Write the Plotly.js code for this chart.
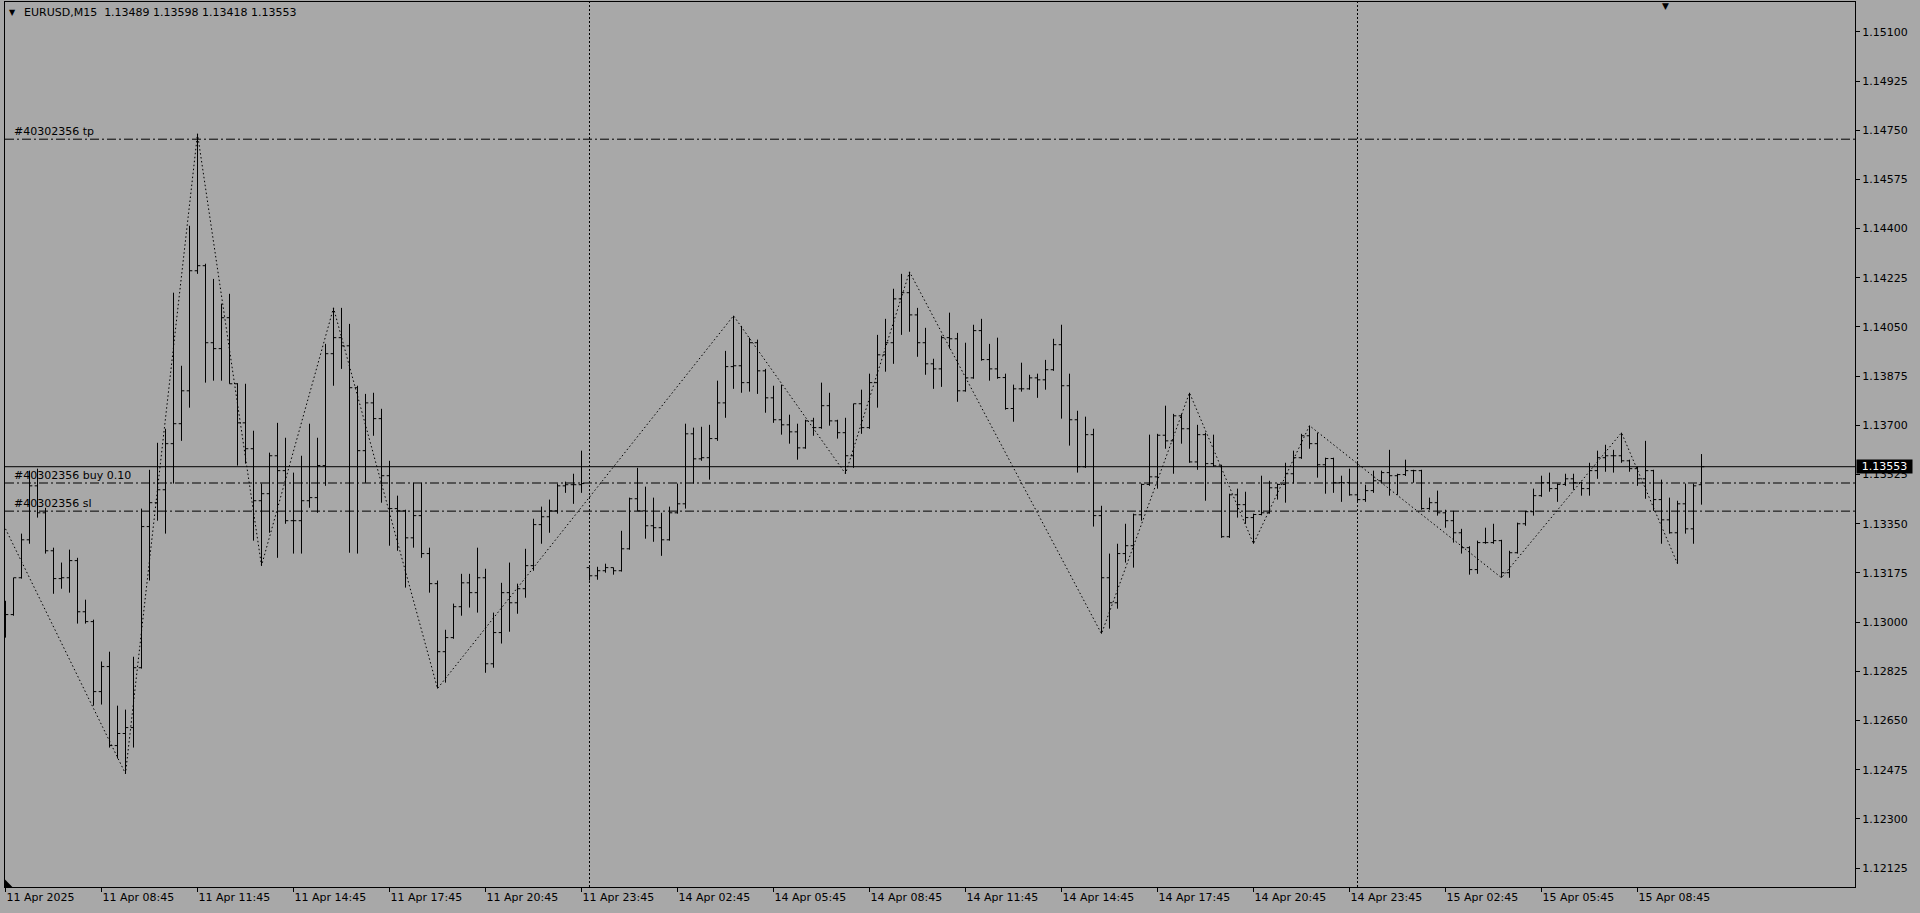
<!DOCTYPE html>
<html>
<head>
<meta charset="utf-8">
<script src="https://cdn.plot.ly/plotly-3.0.1.min.js"></script>
<style>
html,body{margin:0;padding:0;background:#a8a8a8;overflow:hidden;}
#chart{width:1920px;height:913px;}
</style>
</head>
<body>
<div id="chart"></div>
<script>
// ---- EURUSD M15 bars (11 Apr 2025 05:45 .. 15 Apr 2025 10:45) ----
const open = [1.12988,1.13027,1.13158,1.13293,1.13485,1.13389,1.13254,1.13155,1.13158,1.13219,
1.13037,1.13002,1.12753,1.12842,1.12561,1.12604,1.12625,1.12838,1.13340,1.13425,
1.13471,1.13635,1.13706,1.13823,1.14250,1.14268,1.13994,1.13973,1.14083,1.13848,
1.13709,1.13617,1.13432,1.13457,1.13592,1.13539,1.13361,1.13361,1.13432,1.13443,
1.13557,1.13955,1.14012,1.13983,1.13834,1.13610,1.13780,1.13724,1.13521,1.13404,
1.13396,1.13300,1.13379,1.13244,1.13137,1.12895,1.12945,1.13055,1.13140,1.13105,
1.13158,1.12852,1.12963,1.13105,1.13069,1.13119,1.13201,1.13347,1.13375,1.13396,
1.13485,1.13489,1.13489,1.13194,1.13165,1.13183,1.13194,1.13183,1.13261,1.13439,
1.13396,1.13343,1.13336,1.13293,1.13389,1.13421,1.13670,1.13581,1.13585,1.13653,
1.13780,1.13909,1.13912,1.13852,1.13994,1.13894,1.13798,1.13720,1.13702,1.13677,
1.13620,1.13716,1.13692,1.13770,1.13716,1.13674,1.13592,1.13777,1.13692,1.13852,
1.13951,1.13994,1.14150,1.14172,1.14093,1.13994,1.13919,1.13901,1.14012,1.14008,
1.13823,1.13869,1.14037,1.13934,1.13901,1.13870,1.13760,1.13830,1.13830,1.13869,
1.13862,1.13898,1.13987,1.13841,1.13720,1.13553,1.13667,1.13379,1.13158,1.13069,
1.13244,1.13272,1.13382,1.13490,1.13517,1.13665,1.13645,1.13734,1.13688,1.13570,
1.13667,1.13564,1.13556,1.13304,1.13453,1.13418,1.13372,1.13383,1.13389,1.13478,
1.13490,1.13528,1.13585,1.13663,1.13635,1.13560,1.13582,1.13496,1.13496,1.13453,
1.13436,1.13468,1.13503,1.13532,1.13521,1.13525,1.13539,1.13539,1.13404,1.13425,
1.13389,1.13361,1.13318,1.13265,1.13187,1.13283,1.13283,1.13290,1.13176,1.13247,
1.13350,1.13393,1.13450,1.13496,1.13475,1.13490,1.13510,1.13496,1.13475,1.13539,
1.13585,1.13592,1.13592,1.13574,1.13546,1.13510,1.13539,1.13436,1.13364,1.13318,
1.13421,1.13332,1.13489];
const high = [1.13076,1.13158,1.13315,1.13539,1.13546,1.13407,1.13265,1.13212,1.13258,1.13229,
1.13080,1.13009,1.12860,1.12895,1.12703,1.12689,1.12877,1.13404,1.13542,1.13638,
1.13688,1.14172,1.13912,1.14410,1.14737,1.14275,1.14221,1.14133,1.14168,1.13850,
1.13848,1.13681,1.13493,1.13603,1.13709,1.13656,1.13532,1.13592,1.13706,1.13656,
1.13990,1.14118,1.14118,1.14061,1.13841,1.13812,1.13816,1.13759,1.13574,1.13450,
1.13400,1.13496,1.13496,1.13265,1.13148,1.12973,1.13066,1.13172,1.13172,1.13265,
1.13190,1.13034,1.13140,1.13212,1.13137,1.13261,1.13368,1.13411,1.13436,1.13493,
1.13500,1.13528,1.13610,1.13194,1.13197,1.13208,1.13194,1.13325,1.13443,1.13549,
1.13482,1.13443,1.13389,1.13411,1.13493,1.13706,1.13692,1.13695,1.13702,1.13859,
1.13965,1.14090,1.14054,1.14012,1.14005,1.13901,1.13841,1.13845,1.13738,1.13706,
1.13720,1.13727,1.13852,1.13816,1.13720,1.13727,1.13777,1.13827,1.13884,1.14022,
1.14079,1.14186,1.14239,1.14246,1.14118,1.14047,1.13937,1.14019,1.14101,1.14029,
1.13994,1.14058,1.14079,1.13990,1.14012,1.13884,1.13845,1.13923,1.13880,1.13884,
1.13933,1.14008,1.14058,1.13884,1.13752,1.13731,1.13688,1.13414,1.13244,1.13279,
1.13350,1.13386,1.13493,1.13667,1.13670,1.13770,1.13741,1.13741,1.13816,1.13702,
1.13674,1.13667,1.13560,1.13457,1.13475,1.13464,1.13386,1.13521,1.13503,1.13493,
1.13567,1.13610,1.13670,1.13699,1.13674,1.13585,1.13585,1.13521,1.13546,1.13567,
1.13489,1.13539,1.13539,1.13613,1.13528,1.13578,1.13542,1.13542,1.13443,1.13468,
1.13400,1.13396,1.13332,1.13270,1.13290,1.13336,1.13350,1.13293,1.13254,1.13354,
1.13396,1.13475,1.13521,1.13532,1.13493,1.13528,1.13528,1.13500,1.13567,1.13610,
1.13631,1.13613,1.13674,1.13578,1.13553,1.13645,1.13542,1.13507,1.13443,1.13432,
1.13493,1.13493,1.13598];
const low = [1.12945,1.13023,1.13155,1.13279,1.13372,1.13244,1.13101,1.13119,1.13105,1.12995,
1.12995,1.12703,1.12707,1.12554,1.12515,1.12461,1.12554,1.12835,1.13148,1.13361,
1.13315,1.13493,1.13645,1.13763,1.14239,1.13852,1.13859,1.13859,1.13848,1.13557,
1.13564,1.13290,1.13201,1.13318,1.13229,1.13350,1.13244,1.13244,1.13407,1.13389,
1.13485,1.13841,1.13901,1.13247,1.13244,1.13496,1.13663,1.13425,1.13272,1.13254,
1.13123,1.13265,1.13229,1.13105,1.12764,1.12785,1.12941,1.13023,1.13052,1.13034,
1.12820,1.12838,1.12924,1.12966,1.13030,1.13087,1.13183,1.13279,1.13318,1.13386,
1.13460,1.13421,1.13460,1.13148,1.13151,1.13176,1.13169,1.13180,1.13258,1.13396,
1.13297,1.13286,1.13236,1.13290,1.13386,1.13404,1.13493,1.13574,1.13507,1.13645,
1.13727,1.13830,1.13816,1.13820,1.13812,1.13745,1.13709,1.13667,1.13635,1.13578,
1.13617,1.13663,1.13688,1.13699,1.13653,1.13528,1.13549,1.13670,1.13688,1.13763,
1.13891,1.13919,1.14022,1.14033,1.13944,1.13880,1.13830,1.13837,1.13973,1.13784,
1.13820,1.13866,1.13930,1.13859,1.13866,1.13756,1.13713,1.13820,1.13827,1.13798,
1.13827,1.13894,1.13724,1.13628,1.13532,1.13549,1.13340,1.12959,1.12977,1.13048,
1.13212,1.13194,1.13361,1.13485,1.13475,1.13617,1.13528,1.13635,1.13567,1.13542,
1.13432,1.13553,1.13300,1.13300,1.13372,1.13350,1.13279,1.13380,1.13386,1.13436,
1.13425,1.13493,1.13581,1.13617,1.13514,1.13457,1.13460,1.13428,1.13450,1.13428,
1.13428,1.13460,1.13493,1.13450,1.13453,1.13520,1.13496,1.13400,1.13400,1.13379,
1.13336,1.13283,1.13244,1.13169,1.13172,1.13279,1.13279,1.13158,1.13158,1.13244,
1.13343,1.13379,1.13446,1.13464,1.13428,1.13485,1.13471,1.13450,1.13450,1.13510,
1.13535,1.13532,1.13567,1.13535,1.13485,1.13439,1.13396,1.13279,1.13315,1.13208,
1.13315,1.13279,1.13418];
const close = [1.13027,1.13158,1.13293,1.13485,1.13389,1.13254,1.13155,1.13158,1.13219,1.13037,
1.13002,1.12753,1.12842,1.12561,1.12604,1.12625,1.12838,1.13340,1.13425,1.13471,
1.13635,1.13706,1.13823,1.14250,1.14268,1.13994,1.13973,1.14083,1.13848,1.13709,
1.13617,1.13432,1.13457,1.13592,1.13539,1.13361,1.13361,1.13432,1.13443,1.13557,
1.13955,1.14012,1.13983,1.13834,1.13610,1.13780,1.13724,1.13521,1.13404,1.13396,
1.13300,1.13379,1.13244,1.13137,1.12895,1.12945,1.13055,1.13140,1.13105,1.13158,
1.12852,1.12963,1.13105,1.13069,1.13119,1.13201,1.13347,1.13375,1.13396,1.13485,
1.13489,1.13489,1.13493,1.13165,1.13183,1.13194,1.13183,1.13261,1.13439,1.13396,
1.13343,1.13336,1.13293,1.13389,1.13421,1.13670,1.13581,1.13585,1.13653,1.13780,
1.13909,1.13912,1.13852,1.13994,1.13894,1.13798,1.13720,1.13702,1.13677,1.13620,
1.13716,1.13692,1.13770,1.13716,1.13674,1.13592,1.13777,1.13692,1.13852,1.13951,
1.13994,1.14150,1.14172,1.14093,1.13994,1.13919,1.13901,1.14012,1.14008,1.13823,
1.13869,1.14037,1.13934,1.13901,1.13870,1.13760,1.13830,1.13830,1.13869,1.13862,
1.13898,1.13987,1.13841,1.13720,1.13553,1.13667,1.13379,1.13158,1.13069,1.13244,
1.13272,1.13382,1.13490,1.13517,1.13665,1.13645,1.13734,1.13688,1.13570,1.13667,
1.13564,1.13556,1.13304,1.13453,1.13418,1.13372,1.13383,1.13389,1.13478,1.13490,
1.13528,1.13585,1.13663,1.13635,1.13560,1.13582,1.13496,1.13496,1.13453,1.13436,
1.13468,1.13503,1.13532,1.13521,1.13525,1.13539,1.13539,1.13404,1.13425,1.13389,
1.13361,1.13318,1.13265,1.13187,1.13283,1.13283,1.13290,1.13176,1.13247,1.13350,
1.13393,1.13450,1.13496,1.13475,1.13490,1.13510,1.13496,1.13475,1.13539,1.13585,
1.13592,1.13592,1.13574,1.13546,1.13510,1.13539,1.13436,1.13364,1.13318,1.13421,
1.13332,1.13485,1.13553];

// ZigZag indicator vertices (bar index, price)
const zzIndex = [0, 15, 24, 32, 41, 54, 91, 105, 113, 137, 148, 156, 163, 187, 202, 209];
const zzPrice = [1.13332, 1.12461, 1.14737, 1.13201, 1.14118, 1.12764, 1.14090, 1.13528, 1.14246, 1.12959, 1.13816, 1.13279, 1.13699, 1.13158, 1.13674, 1.13208];

// time axis labels (every 12 bars)
const timeTickIndex = [0,12,24,36,48,60,72,84,96,108,120,132,144,156,168,180,192,204];
const timeTickText = ["11 Apr 2025","11 Apr 08:45","11 Apr 11:45","11 Apr 14:45","11 Apr 17:45","11 Apr 20:45",
  "11 Apr 23:45","14 Apr 02:45","14 Apr 05:45","14 Apr 08:45","14 Apr 11:45","14 Apr 14:45",
  "14 Apr 17:45","14 Apr 20:45","14 Apr 23:45","15 Apr 02:45","15 Apr 05:45","15 Apr 08:45"];
const daySeparators = [73, 169];

// price axis labels
const priceTicks = [1.12125,1.12300,1.12475,1.12650,1.12825,1.13000,1.13175,1.13350,1.13525,
  1.13700,1.13875,1.14050,1.14225,1.14400,1.14575,1.14750,1.14925,1.15100];

// order levels and bid
const orderLabels = ["#40302356 tp", "#40302356 buy 0.10", "#40302356 sl"];
const orderLevels = [1.14718, 1.13495, 1.13395];
const bid = 1.13553;
const symbolTitle = "EURUSD,M15  1.13489 1.13598 1.13418 1.13553";

const FONT = "DejaVu Sans";
const idx = open.map((_, i) => i);

const traces = [
  {
    type: "ohlc", x: idx, open: open, high: high, low: low, close: close,
    increasing: {line: {color: "#000000", width: 1}},
    decreasing: {line: {color: "#000000", width: 1}},
    tickwidth: 0.35, hoverinfo: "skip", showlegend: false
  },
  {
    type: "scatter", mode: "lines", x: zzIndex, y: zzPrice,
    line: {color: "#000000", width: 1, dash: "1.5px,2.5px"},
    hoverinfo: "skip", showlegend: false
  }
];

const shapes = [];
orderLevels.forEach(v => shapes.push({
  type: "line", xref: "paper", x0: 0, x1: 1, yref: "y", y0: v, y1: v,
  line: {color: "#000000", width: 1, dash: "9px,3px,2px,3px"}, layer: "below"
}));
shapes.push({type: "line", xref: "paper", x0: 0, x1: 1, yref: "y", y0: bid, y1: bid,
  line: {color: "#000000", width: 1}, layer: "below"});
daySeparators.forEach(v => shapes.push({
  type: "line", xref: "x", x0: v, x1: v, yref: "paper", y0: 0, y1: 1,
  line: {color: "#000000", width: 1, dash: "2px,2px"}, layer: "below"
}));
// small corner marker (bottom-left)
shapes.push({type: "path", xref: "paper", yref: "paper",
  path: "M 0 0 L 0 0.0085 L 0.0040 0 Z",
  fillcolor: "#000000", line: {width: 0}, layer: "above"});

const annotations = [];
annotations.push({xref: "paper", yref: "paper", x: 0, y: 1, xanchor: "left", yanchor: "top",
  xshift: 17, yshift: -2, text: symbolTitle, showarrow: false,
  font: {family: FONT, size: 11, color: "#000000"}});
annotations.push({xref: "paper", yref: "paper", x: 0, y: 1, xanchor: "left", yanchor: "top",
  xshift: 2, yshift: -4, text: "▼", showarrow: false,
  font: {family: FONT, size: 8, color: "#000000"}});
orderLabels.forEach((t, k) => annotations.push({
  xref: "paper", yref: "y", x: 0, y: orderLevels[k], xanchor: "left", yanchor: "bottom",
  xshift: 7, yshift: -1, text: t, showarrow: false,
  font: {family: FONT, size: 11, color: "#000000"}
}));
annotations.push({xref: "paper", yref: "y", x: 1, y: bid, xanchor: "left", yanchor: "middle",
  xshift: 1, text: bid.toFixed(5), showarrow: false, bgcolor: "#000000",
  width: 55, height: 13, borderpad: 0, align: "center",
  font: {family: FONT, size: 11, color: "#ffffff"}});
annotations.push({xref: "x", yref: "paper", x: 207.5, y: 1, xanchor: "center", yanchor: "top",
  yshift: 3, text: "▼", showarrow: false,
  font: {family: FONT, size: 9, color: "#000000"}});

const layout = {
  width: 1920, height: 913,
  margin: {l: 5, r: 65, t: 2, b: 26, pad: 0},
  paper_bgcolor: "#a8a8a8", plot_bgcolor: "#a8a8a8",
  showlegend: false, dragmode: false, hovermode: false,
  font: {family: FONT, size: 11, color: "#000000"},
  xaxis: {
    range: [-0.0625, 231.1875], showgrid: false, zeroline: false,
    showline: true, linecolor: "#000000", linewidth: 1, mirror: true,
    ticks: "outside", ticklen: 4, tickcolor: "#000000", tickwidth: 1,
    tickvals: timeTickIndex, ticktext: timeTickText,
    ticklabelposition: "outside right",
    tickfont: {family: FONT, size: 11, color: "#000000"},
    rangeslider: {visible: false}, fixedrange: true
  },
  yaxis: {
    side: "right", range: [1.12058, 1.15206], showgrid: false, zeroline: false,
    showline: true, linecolor: "#000000", linewidth: 1, mirror: true,
    ticks: "outside", ticklen: 4, tickcolor: "#000000", tickwidth: 1,
    tickvals: priceTicks, ticktext: priceTicks.map(v => v.toFixed(5)),
    tickfont: {family: FONT, size: 11, color: "#000000"},
    fixedrange: true
  },
  shapes: shapes,
  annotations: annotations
};

Plotly.newPlot("chart", traces, layout, {staticPlot: true, displayModeBar: false});
</script>
</body>
</html>
